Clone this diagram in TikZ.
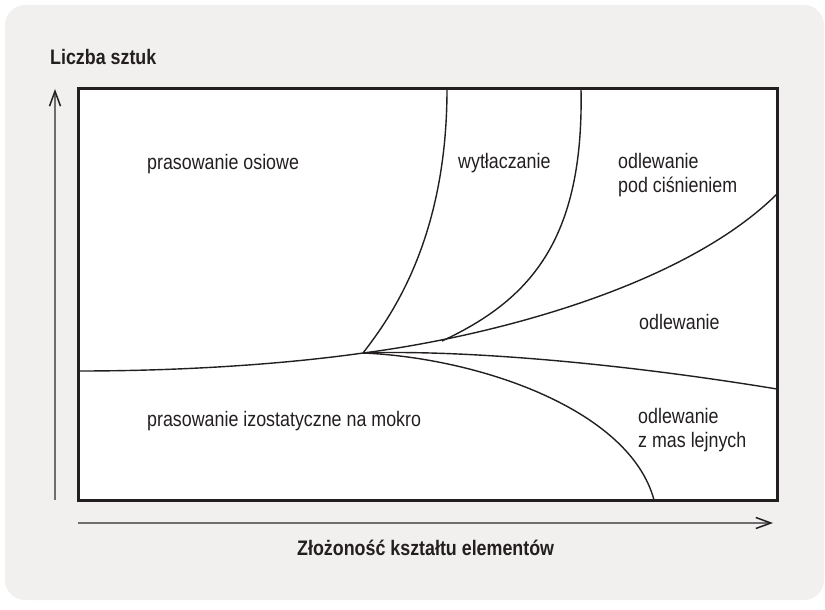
\documentclass[tikz,border=0pt]{standalone}
\usepackage{fontspec}
\newfontfamily\narrowsans[FakeStretch=0.85]{Liberation Sans}
\usepackage{tikz}
\usetikzlibrary{arrows.meta, positioning}
\definecolor{panelgray}{HTML}{F1F0EE}
\definecolor{inkblack}{HTML}{231F20}
\definecolor{axisgray}{HTML}{6D6E70}
\tikzset{
    base/.style={text=inkblack, inner sep=0pt, align=left},
    region/.style={base, anchor=base west, font=\narrowsans\fontsize{21}{24}\selectfont},
    axislabel/.style={base, anchor=base west, font=\narrowsans\bfseries\fontsize{21}{24}\selectfont},
    boundary/.style={draw=inkblack, line width=1.4pt},
    frame/.style={draw=inkblack, line width=3pt},
    axis/.style={draw=axisgray, line width=1.5pt, -{Straight Barb[length=15pt, width=11pt, color=inkblack]}}
}

\begin{document}
\begin{tikzpicture}[x=1pt, y=-1pt]
    \useasboundingbox (0,0) rectangle (825,610);
    \fill [panelgray, rounded corners=20pt] (5,5) rectangle (824,600);
    \fill [white] (78,89) rectangle (777,500);

    % corners of the chart
    \coordinate (TL) at (78,89);
    \coordinate (BR) at (777,500);

    % where the fields meet
    \coordinate (Split) at (363,353);
    \coordinate (Merge) at (442,341);
    \coordinate (LeftEnd) at (78,371);
    \coordinate (TopA) at (447,89);
    \coordinate (TopB) at (581,89);
    \coordinate (RightHigh) at (777,194);
    \coordinate (RightLow) at (777,389);
    \coordinate (BottomEnd) at (654,500);

    \draw [boundary] (LeftEnd) .. controls (200,371) and (300,362) .. (Split);
    \draw [boundary] (Split) .. controls (390,318) and (447,240) .. (TopA);
    \draw [boundary] (Merge) .. controls (530,300) and (584,240) .. (TopB);
    \draw [boundary] (Split) .. controls (480,338) and (680,290) .. (RightHigh);
    \draw [boundary] (Split) .. controls (450,350) and (600,360) .. (RightLow);
    \draw [boundary] (Split) .. controls (480,358) and (630,410) .. (BottomEnd);

    \draw [frame] (TL) rectangle (BR);

    % axes
    \coordinate (YFoot) at (55,500);
    \coordinate (YHead) at (55,89);
    \coordinate (XFoot) at (78,523);
    \coordinate (XHead) at (773,523);
    \draw [axis] (YFoot) -- (YHead);
    \draw [axis] (XFoot) -- (XHead);

    \node [axislabel] (ylab) at (50,65) {Liczba sztuk};
    \node [axislabel] (xlab) at (297,555) {Złożoność kształtu elementów};

    % fields (base of two-line nodes sits on the last line)
    \node [region] (osiowe) at (147,169) {prasowanie osiowe};
    \node [region] (wytl) at (458,168) {wytłaczanie};
    \node [region] (cisn) at (618,192) {odlewanie\\pod ciśnieniem};
    \node [region] (odlew) at (639,329) {odlewanie};
    \node [region] (izo) at (147,426) {prasowanie izostatyczne na mokro};
    \node [region] (lejne) at (638,447) {odlewanie\\z mas lejnych};
\end{tikzpicture}
\end{document}
